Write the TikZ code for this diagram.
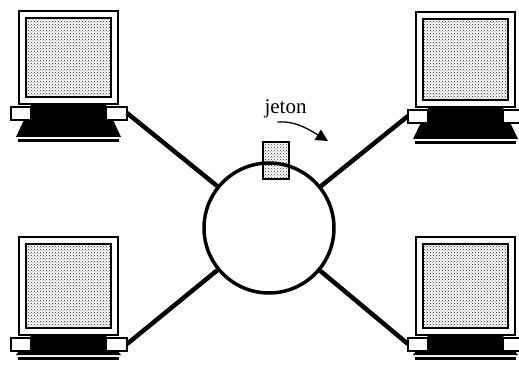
\documentclass[tikz,border=0pt]{standalone}
\usepackage{tikz}
\usepackage{fontspec}
\setmainfont{Liberation Serif}
\usetikzlibrary{arrows.meta, patterns}
\tikzstyle{cable} = [line width=4.5pt]
\tikzstyle{ring} = [circle, draw=black, line width=3.5pt, minimum size=130pt, inner sep=0pt]
\tikzstyle{jeton} = [rectangle, draw=black, line width=1.8pt, minimum width=26pt, minimum height=37pt, pattern=crosshatch dots, pattern color=black!80]
\tikzstyle{screen} = [pattern=crosshatch dots, pattern color=black!85]

% a workstation: #1 = height of the monitor, #2 = height of the foot
\tikzset{
  pics/computer/.style 2 args={code={
    \draw[line width=2pt, fill=white] (0,0) rectangle (99,#1);
    \draw[line width=2.6pt, screen] (7,7) rectangle (92,#1-7);
    % foot
    \fill (12,#1+1) -- (87,#1+1) -- (102,#1+#2) -- (-3,#1+#2) -- cycle;
    \fill (-1,#1+#2+2) rectangle (100,#1+#2+5);
    % side tabs
    \draw[line width=1.5pt, fill=white] (-8,#1+3) rectangle (12,#1+16);
    \draw[line width=1.5pt, fill=white] (87,#1+3) rectangle (108,#1+16);
    \coordinate (-west) at (-8,#1+9);
    \coordinate (-east) at (108,#1+9);
  }}
}

\begin{document}
\begin{tikzpicture}[x=1pt, y=-1pt]
    \useasboundingbox (0,0) rectangle (519,371);

    \pic (pcA) at (19,11) {computer={93}{33}};
    \pic (pcB) at (416,12) {computer={95}{32}};
    \pic (pcC) at (19,237) {computer={98}{20}};
    \pic (pcD) at (416,237) {computer={98}{20}};

    \node[jeton] (tok) at (276,160.5) {};
    \node[ring] (net) at (269,228) {};

    \draw[cable] (pcA-east) -- (net);
    \draw[cable] (pcB-west) -- (net);
    \draw[cable] (pcC-east) -- (net);
    \draw[cable] (pcD-west) -- (net);

    \node[font=\fontsize{21}{24}\selectfont, anchor=base] (lbl) at (285.5,114) {jeton};
    \coordinate (tip) at (328,141);
    \draw[-{Triangle[length=12pt,width=12pt]}, line width=1.3pt] ([xshift=-8pt]lbl.south) .. controls (294,121) and (305,127) .. (tip);
\end{tikzpicture}
\end{document}
